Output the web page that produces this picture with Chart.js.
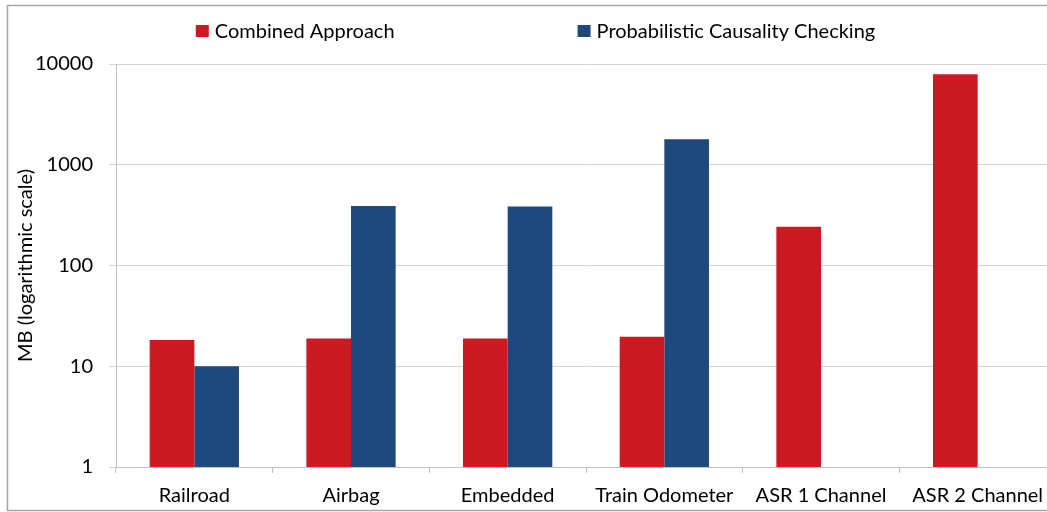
<!DOCTYPE html>
<html>
<head>
<meta charset="utf-8">
<script src="https://cdn.jsdelivr.net/npm/chart.js@4/dist/chart.umd.min.js"></script>
<style>
  html, body { margin: 0; padding: 0; background: #fff; overflow: hidden; }
  #wrap { position: relative; width: 1072px; height: 512px; }
</style>
</head>
<body>
<div id="wrap"><canvas id="c" width="1072" height="512"></canvas></div>
<script>
// Memory use per case study (MB, log scale)
const categories = ['Railroad', 'Airbag', 'Embedded', 'Train Odometer', 'ASR 1 Channel', 'ASR 2 Channel'];
const combinedApproach = [18.2, 18.9, 18.9, 19.6, 243, 7900];
const probabilisticCausality = [10, 390, 385, 1790, null, null];
const yTickValues = [1, 10, 100, 1000, 10000];
const seriesNames = ['Combined Approach', 'Probabilistic Causality Checking'];

const FONT = 'Lato';
const FS = 20;
const TEXT = '#000';
const RED = '#CC1A22';
const BLUE = '#1F497D';

// White background and the thin frame around the chart
const framePlugin = {
  id: 'frame',
  beforeDraw(chart) {
    const ctx = chart.ctx;
    ctx.save();
    ctx.fillStyle = '#fff';
    ctx.fillRect(0, 0, chart.width, chart.height);
    ctx.strokeStyle = '#a6a6a6';
    ctx.lineWidth = 1.5;
    ctx.strokeRect(7.5, 5.5, 1057, 505);
    ctx.restore();
  }
};

// Single-row legend with wide spacing between entries
const legendRow = {
  id: 'legendRow',
  afterDraw(chart) {
    const ctx = chart.ctx;
    const box = 13, gap = 6, spacing = 183, cy = 31;
    ctx.save();
    ctx.font = FS + 'px ' + FONT;
    ctx.textBaseline = 'middle';
    const items = chart.data.datasets.map(ds => ({
      text: ds.label, color: ds.backgroundColor,
      w: box + gap + ctx.measureText(ds.label).width
    }));
    const total = items.reduce((s, it) => s + it.w, 0) + spacing * (items.length - 1);
    let x = 535.5 - total / 2;
    items.forEach(it => {
      ctx.fillStyle = it.color;
      ctx.fillRect(x, cy - 6, box, 12);
      ctx.fillStyle = TEXT;
      ctx.fillText(it.text, x + box + gap, cy + 1);
      x += it.w + spacing;
    });
    ctx.restore();
  }
};

new Chart(document.getElementById('c'), {
  type: 'bar',
  data: {
    labels: categories,
    datasets: [
      { label: seriesNames[0], data: combinedApproach, backgroundColor: RED },
      { label: seriesNames[1], data: probabilisticCausality, backgroundColor: BLUE }
    ]
  },
  options: {
    responsive: false,
    animation: false,
    devicePixelRatio: 1,
    layout: { padding: { top: 64, right: 16, bottom: 0, left: 0 } },
    datasets: { bar: { categoryPercentage: 0.57, barPercentage: 1.0 } },
    plugins: { legend: { display: false }, tooltip: { enabled: false } },
    scales: {
      x: {
        grid: { offset: true, drawOnChartArea: false, drawTicks: true, tickLength: 6, color: '#c0c0c0' },
        border: { color: '#c0c0c0', width: 1 },
        ticks: { color: TEXT, font: { family: FONT, size: FS }, padding: 11, maxRotation: 0, autoSkip: false },
        afterFit(s) { s.height = 45; }
      },
      y: {
        type: 'logarithmic',
        min: 1, max: 10000,
        afterBuildTicks(s) { s.ticks = yTickValues.map(v => ({ value: v })); },
        grid: { color: '#d4d4d4', lineWidth: 1, drawTicks: true, tickLength: 7 },
        border: { color: '#c0c0c0', width: 1 },
        ticks: {
          color: TEXT, font: { family: FONT, size: FS }, padding: 16,
          callback: v => String(v)
        },
        title: {
          display: true, text: 'MB (logarithmic scale)', color: TEXT,
          font: { family: FONT, size: FS, lineHeight: 1.2 }, padding: { top: 14, bottom: 0 }
        },
        afterFit(s) { s.width = 116; }
      }
    }
  },
  plugins: [framePlugin, legendRow]
});
</script>
</body>
</html>
